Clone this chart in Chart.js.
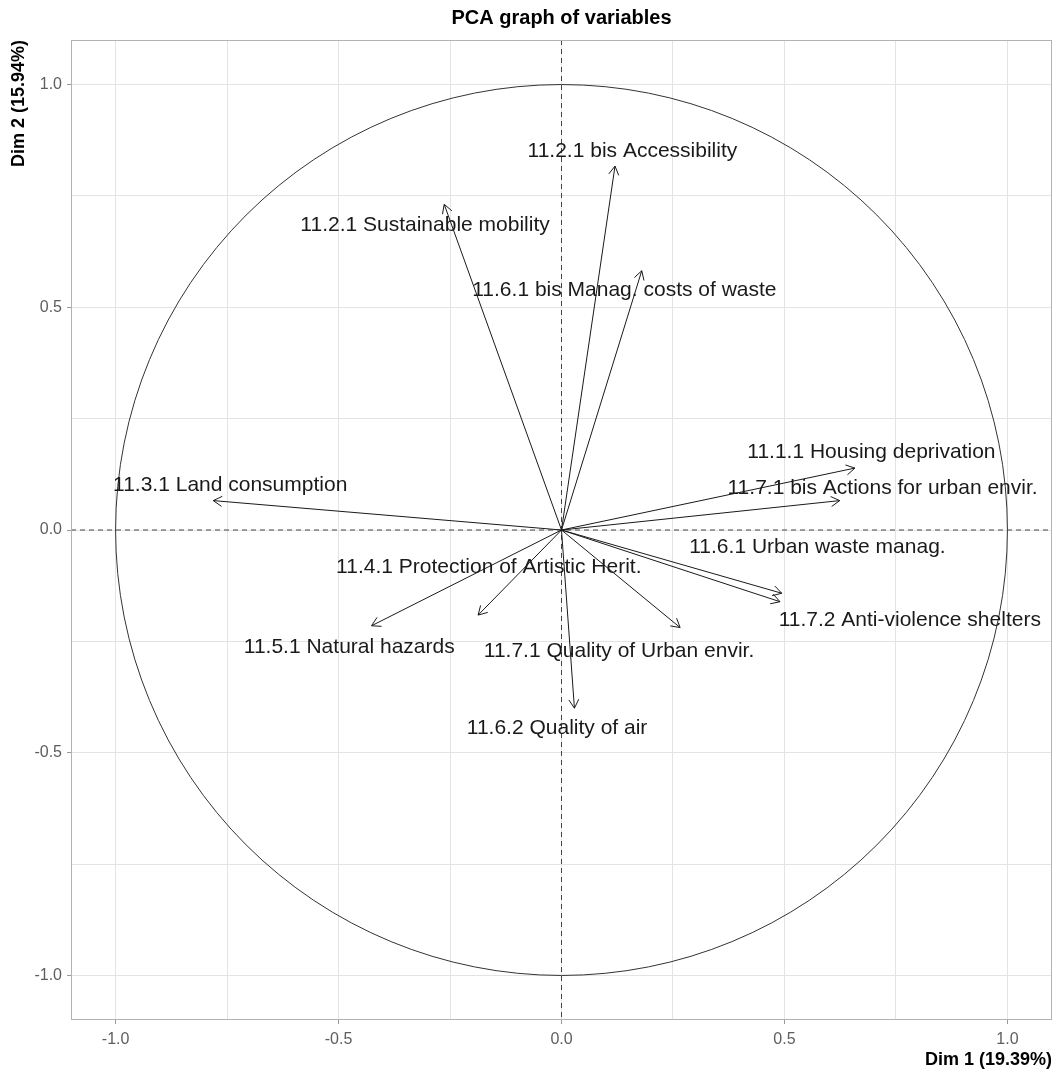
<!DOCTYPE html>
<html>
<head>
<meta charset="utf-8">
<title>PCA graph of variables</title>
<script src="https://cdn.jsdelivr.net/npm/chart.js@4/dist/chart.umd.min.js"></script>
<style>
  html, body { margin: 0; padding: 0; background: #fff; }
  #wrap { width: 1062px; height: 1075px; position: relative; }
</style>
</head>
<body>
<div id="wrap"><canvas id="pca"></canvas></div>
<script>
"use strict";

// variable names
var variables = [
    '11.2.1 bis Accessibility',
    '11.2.1 Sustainable mobility',
    '11.6.1 bis Manag. costs of waste',
    '11.1.1 Housing deprivation',
    '11.7.1 bis Actions for urban envir.',
    '11.3.1 Land consumption',
    '11.6.1 Urban waste manag.',
    '11.7.2 Anti-violence shelters',
    '11.4.1 Protection of Artistic Herit.',
    '11.5.1 Natural hazards',
    '11.7.1 Quality of Urban envir.',
    '11.6.2 Quality of air'
];

// coordinates on the first two dimensions
var dim1 = [0.120, -0.263, 0.180, 0.658, 0.624, -0.781, 0.494, 0.490, -0.187, -0.426, 0.266, 0.029];
var dim2 = [0.817, 0.731, 0.582, 0.139, 0.066, 0.066, -0.142, -0.161, -0.191, -0.215, -0.219, -0.400];

// where the (repelled) labels sit, in data units
var labelX = [0.159, -0.306, 0.141, 0.695, 0.720, -0.743, 0.574, 0.781, -0.163, -0.476, 0.129, -0.010];
var labelY = [0.851, 0.684, 0.538, 0.174, 0.093, 0.100, -0.039, -0.203, -0.084, -0.262, -0.273, -0.446];

var gridValues = [-1, -0.75, -0.5, -0.25, 0, 0.25, 0.5, 0.75, 1];
var majorTicks = [-1, -0.5, 0, 0.5, 1];
var tickLabels = ['-1.0', '-0.5', '0.0', '0.5', '1.0'];

var FONT = "'Liberation Sans', Arial, Helvetica, sans-serif";

function isMajor(v) {
    return majorTicks.some(function(m) { return Math.abs(m - v) < 1e-9; });
}

function tickText(v) {
    for (var i = 0; i < majorTicks.length; i++) {
        if (Math.abs(majorTicks[i] - v) < 1e-9) return tickLabels[i];
    }
    return '';
}

/**
 * Panel border, correlation circle, dashed axes, arrow heads and labels
 */
var pcaDecor = {
    id: 'pcaDecor',
    beforeDatasetsDraw: function(chart) {
        var ctx = chart.ctx, xs = chart.scales.x, ys = chart.scales.y, a = chart.chartArea;
        var cx = xs.getPixelForValue(0), cy = ys.getPixelForValue(0);
        ctx.save();
        ctx.beginPath();
        ctx.rect(a.left, a.top, a.right - a.left, a.bottom - a.top);
        ctx.clip();

        // circle of radius 1
        ctx.strokeStyle = '#333';
        ctx.lineWidth = 1;
        ctx.beginPath();
        ctx.ellipse(cx, cy, xs.getPixelForValue(1) - cx, cy - ys.getPixelForValue(1), 0, 0, Math.PI * 2);
        ctx.stroke();

        // dashed reference lines
        ctx.strokeStyle = '#444';
        ctx.setLineDash([5, 4]);
        ctx.beginPath();
        ctx.moveTo(a.left, cy);
        ctx.lineTo(a.right, cy);
        ctx.moveTo(cx, a.top);
        ctx.lineTo(cx, a.bottom);
        ctx.stroke();
        ctx.restore();
    },
    afterDatasetsDraw: function(chart) {
        var ctx = chart.ctx, xs = chart.scales.x, ys = chart.scales.y, a = chart.chartArea;
        ctx.save();

        // arrow heads
        ctx.strokeStyle = '#1a1a1a';
        ctx.lineWidth = 1;
        chart.data.datasets.forEach(function(ds, i) {
            var pts = chart.getDatasetMeta(i).data;
            var x0 = pts[0].x, y0 = pts[0].y, x1 = pts[1].x, y1 = pts[1].y;
            var ang = Math.atan2(y1 - y0, x1 - x0), len = 10, spread = Math.PI / 6;
            ctx.beginPath();
            ctx.moveTo(x1 - len * Math.cos(ang - spread), y1 - len * Math.sin(ang - spread));
            ctx.lineTo(x1, y1);
            ctx.lineTo(x1 - len * Math.cos(ang + spread), y1 - len * Math.sin(ang + spread));
            ctx.stroke();
        });

        // labels
        ctx.fillStyle = '#1a1a1a';
        ctx.font = '21px ' + FONT;
        ctx.textAlign = 'center';
        ctx.textBaseline = 'middle';
        variables.forEach(function(name, i) {
            ctx.fillText(name, xs.getPixelForValue(labelX[i]), ys.getPixelForValue(labelY[i]));
        });

        // panel border
        ctx.strokeStyle = '#b3b3b3';
        ctx.strokeRect(a.left + 0.5, a.top + 0.5, a.right - a.left - 1, a.bottom - a.top - 1);
        ctx.restore();
    }
};

var datasets = variables.map(function(name, i) {
    return {
        label: name,
        data: [{ x: 0, y: 0 }, { x: dim1[i], y: dim2[i] }],
        showLine: true,
        borderColor: '#1a1a1a',
        borderWidth: 1,
        pointRadius: 0
    };
});

function axisOptions(title, fix) {
    return {
        type: 'linear',
        min: -1.1,
        max: 1.1,
        afterBuildTicks: function(scale) {
            scale.ticks = gridValues.map(function(v) { return { value: v }; });
        },
        afterFit: fix,
        grid: {
            color: '#e3e3e3',
            lineWidth: 1,
            tickLength: 4,
            tickColor: function(c) { return c.tick && isMajor(c.tick.value) ? '#999' : 'rgba(0,0,0,0)'; }
        },
        border: { display: false },
        ticks: {
            color: '#5e5e5e',
            font: { size: 16, family: FONT },
            autoSkip: false,
            maxRotation: 0,
            callback: function(v) { return tickText(v); }
        },
        title: {
            display: true,
            text: title,
            align: 'end',
            color: '#000',
            font: { size: 18, weight: 'bold', family: FONT }
        }
    };
}

var xAxis = axisOptions('Dim 1 (19.39%)', function(scale) { scale.height = 55; });
xAxis.ticks.padding = 6;
xAxis.title.padding = { top: 0, bottom: 4 };

var yAxis = axisOptions('Dim 2 (15.94%)', function(scale) { scale.width = 70; });
yAxis.ticks.padding = 5;
yAxis.title.padding = { top: 7, bottom: 0 };

new Chart(document.getElementById('pca'), {
    type: 'scatter',
    data: { datasets: datasets },
    options: {
        responsive: true,
        maintainAspectRatio: false,
        animation: false,
        layout: { padding: { left: 1, right: 10, top: 0, bottom: 0 } },
        scales: { x: xAxis, y: yAxis },
        plugins: {
            legend: { display: false },
            tooltip: { enabled: false },
            title: {
                display: true,
                fullSize: false,
                text: 'PCA graph of variables',
                color: '#000',
                font: { size: 20, weight: 'bold', family: FONT },
                padding: { top: 6, bottom: 10 }
            }
        }
    },
    plugins: [pcaDecor]
});
</script>
</body>
</html>
